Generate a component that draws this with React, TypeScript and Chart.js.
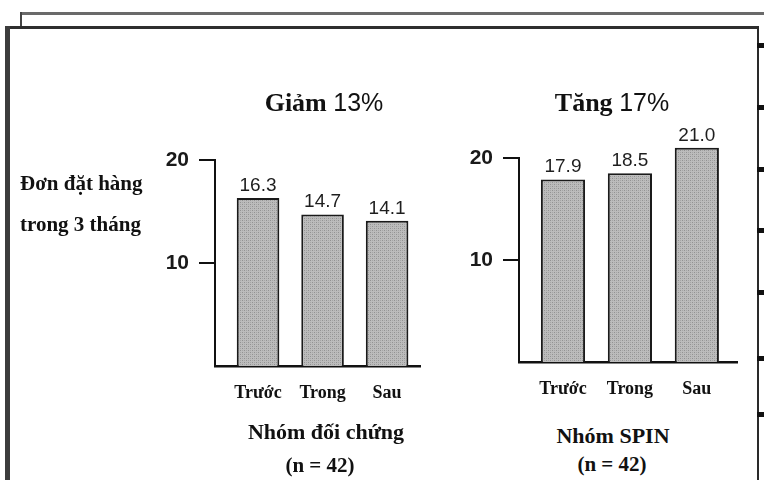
import React, { useEffect, useRef } from "react";
import { Chart, registerables } from "chart.js";

Chart.register(...registerables);

const categories = ["Trước", "Trong", "Sau"];
const controlValues = [16.3, 14.7, 14.1];
const spinValues = [17.9, 18.5, 21.0];
const yTickValues = [10, 20];
const panelTitles = ["Giảm 13%", "Tăng 17%"];
const groupNames = ["Nhóm đối chứng", "Nhóm SPIN"];
const groupSizes = ["(n = 42)", "(n = 42)"];
const yLabelLines = ["Đơn đặt hàng", "trong 3 tháng"];

const SERIF = '"Liberation Serif", "DejaVu Serif", serif';
const SANS = '"Liberation Sans", Arial, sans-serif';

function makePattern(): CanvasPattern | string {
  const p = document.createElement("canvas");
  p.width = 4;
  p.height = 4;
  const c = p.getContext("2d");
  if (!c) return "#aeaeae";
  c.fillStyle = "#bcbcbc";
  c.fillRect(0, 0, 4, 4);
  c.fillStyle = "#929292";
  c.fillRect(0, 0, 1, 1);
  c.fillRect(2, 2, 1, 1);
  c.fillStyle = "#a6a6a6";
  c.fillRect(2, 0, 1, 1);
  c.fillRect(0, 2, 1, 1);
  const pat = c.createPattern(p, "repeat");
  return pat || "#aeaeae";
}

type PanelProps = {
  values: number[];
  left: number;
  top: number;
  width: number;
  height: number;
  yAxisWidth: number;
  padding: { top: number; right: number; bottom: number; left: number };
  xMin: number;
  xMax: number;
};

function BarPanel(props: PanelProps) {
  const ref = useRef<HTMLCanvasElement | null>(null);
  useEffect(() => {
    if (!ref.current) return;
    const values = props.values;
    const valueLabels = {
      id: "valueLabels",
      afterDatasetsDraw(chart: any) {
        const ctx = chart.ctx;
        const meta = chart.getDatasetMeta(0);
        meta.data.forEach((bar: any, i: number) => {
          ctx.save();
          ctx.font = `19px ${SANS}`;
          ctx.fillStyle = "#1e1e1e";
          ctx.textAlign = "center";
          ctx.textBaseline = "bottom";
          ctx.fillText(values[i].toFixed(1), bar.x, bar.y - 3);
          ctx.restore();
        });
      },
    };
    const chart = new Chart(ref.current, {
      type: "bar",
      data: {
        datasets: [
          {
            data: values.map((v, i) => ({ x: i, y: v })),
            backgroundColor: makePattern() as any,
            borderColor: "#1a1a1a",
            borderWidth: 2,
            borderSkipped: "bottom",
            barPercentage: 0.66,
            categoryPercentage: 1,
            clip: false as any,
          },
        ],
      },
      options: {
        responsive: false,
        animation: false,
        layout: { padding: props.padding },
        plugins: {
          legend: { display: false },
          tooltip: { enabled: false },
          title: { display: false },
        },
        scales: {
          x: {
            type: "linear",
            offset: false,
            min: props.xMin,
            max: props.xMax,
            afterBuildTicks: (s: any) => {
              s.ticks = categories.map((_, i) => ({ value: i }));
            },
            afterFit: (s: any) => {
              s.height = 40;
            },
            grid: { display: false, offset: false },
            border: { display: true, color: "#111", width: 2.5 },
            ticks: {
              autoSkip: false,
              maxRotation: 0,
              padding: 9,
              color: "#111",
              font: { family: SERIF, size: 18, weight: "bold" },
              callback: (v: any) => categories[v as number] ?? "",
            },
          },
          y: {
            type: "linear",
            min: 0,
            max: 20,
            afterBuildTicks: (s: any) => {
              s.ticks = yTickValues.map((v) => ({ value: v }));
            },
            afterFit: (s: any) => {
              s.width = props.yAxisWidth;
            },
            grid: {
              drawOnChartArea: false,
              drawTicks: true,
              tickLength: 16,
              color: "#111",
              lineWidth: 2,
            },
            border: { display: true, color: "#111", width: 2 },
            ticks: {
              padding: 10,
              color: "#1a1a1a",
              font: { family: SANS, size: 21, weight: "600" },
            },
          },
        },
      },
      plugins: [valueLabels],
    });
    return () => chart.destroy();
  }, []);
  return (
    <canvas
      ref={ref}
      width={props.width}
      height={props.height}
      style={{
        position: "absolute",
        left: props.left,
        top: props.top,
        width: props.width,
        height: props.height,
      }}
    />
  );
}

const textBase: React.CSSProperties = {
  position: "absolute",
  fontFamily: SERIF,
  fontWeight: "bold",
  color: "#111",
  whiteSpace: "nowrap",
  lineHeight: 1,
};

function Title({ text, left }: { text: string; left: number }) {
  const idx = text.indexOf(" ");
  const word = text.slice(0, idx);
  const pct = text.slice(idx + 1);
  return (
    <div style={{ ...textBase, left, width: 200, top: 90, textAlign: "center", fontSize: 26 }}>
      <span>{word}</span>{" "}
      <span style={{ fontFamily: SANS, fontWeight: 500, fontSize: 25 }}>{pct}</span>
    </div>
  );
}

export default function App() {
  const ticksRight = [43, 105, 167, 228, 290, 356, 412];
  return (
    <div
      style={{
        position: "fixed",
        left: 0,
        top: 0,
        width: 764,
        height: 480,
        background: "#fff",
        overflow: "hidden",
      }}
    >
      {/* scanned frame */}
      <div style={{ position: "absolute", left: 20, top: 12, width: 744, height: 3, background: "#6a6a6a" }} />
      <div style={{ position: "absolute", left: 20, top: 12, width: 2, height: 16, background: "#444" }} />
      <div style={{ position: "absolute", left: 5, top: 26, width: 754, height: 3, background: "#2e2e2e" }} />
      <div style={{ position: "absolute", left: 5, top: 26, width: 5, height: 460, background: "#3c3c3c" }} />
      <div style={{ position: "absolute", left: 757, top: 26, width: 2, height: 460, background: "#2a2a2a" }} />
      {ticksRight.map((y) => (
        <div key={y} style={{ position: "absolute", left: 757, top: y, width: 7, height: 5, background: "#111" }} />
      ))}

      <BarPanel
        values={controlValues}
        left={140}
        top={110}
        width={300}
        height={310}
        yAxisWidth={75}
        padding={{ top: 50, right: 20, bottom: 14, left: 0 }}
        xMin={-0.667}
        xMax={2.51}
      />
      <BarPanel
        values={spinValues}
        left={444}
        top={110}
        width={310}
        height={310}
        yAxisWidth={75}
        padding={{ top: 48, right: 17, bottom: 18, left: 0 }}
        xMin={-0.657}
        xMax={2.6}
      />

      {/* panel titles */}
      <Title text={panelTitles[0]} left={224} />
      <Title text={panelTitles[1]} left={512} />

      {/* y axis label */}
      <div style={{ ...textBase, left: 20, top: 173, fontSize: 21 }}>{yLabelLines[0]}</div>
      <div style={{ ...textBase, left: 20, top: 214, fontSize: 21 }}>{yLabelLines[1]}</div>

      {/* group labels */}
      <div style={{ ...textBase, left: 226, width: 200, top: 421, textAlign: "center", fontSize: 22 }}>
        {groupNames[0]}
      </div>
      <div style={{ ...textBase, left: 220, width: 200, top: 455, textAlign: "center", fontSize: 21 }}>
        {groupSizes[0]}
      </div>
      <div style={{ ...textBase, left: 513, width: 200, top: 425, textAlign: "center", fontSize: 22 }}>
        {groupNames[1]}
      </div>
      <div style={{ ...textBase, left: 512, width: 200, top: 454, textAlign: "center", fontSize: 21 }}>
        {groupSizes[1]}
      </div>
    </div>
  );
}
